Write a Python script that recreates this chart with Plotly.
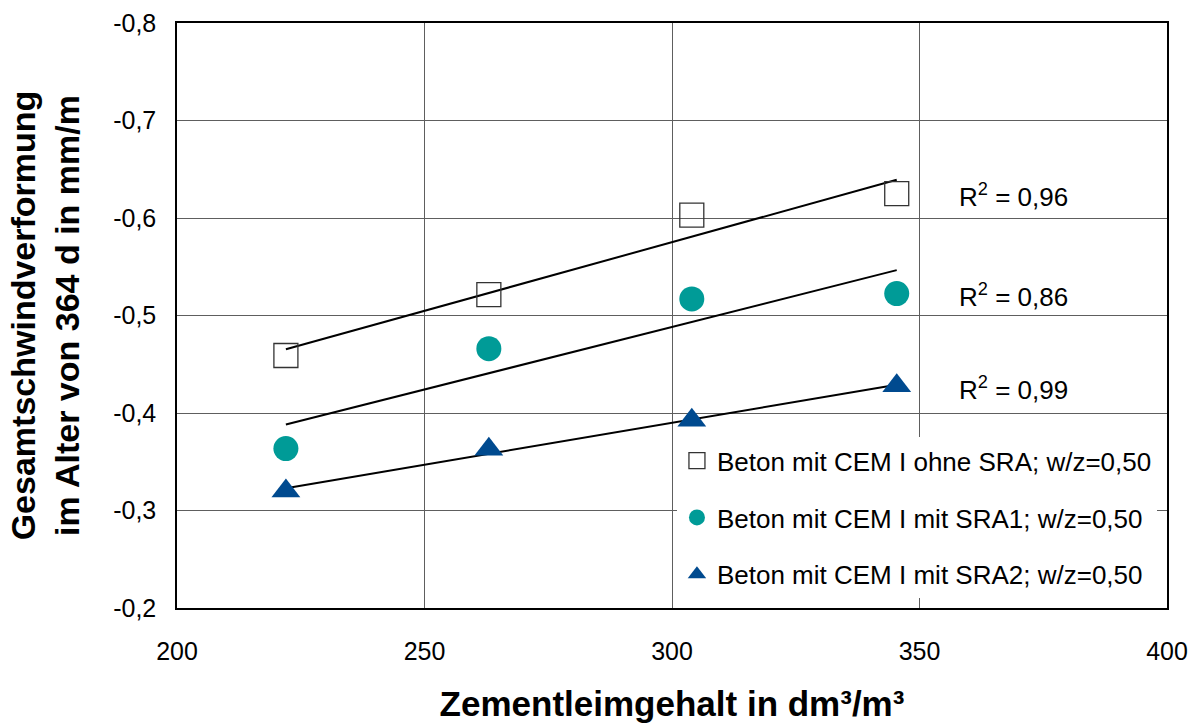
import numpy as np
import plotly.graph_objects as go

# ---- data ----
zementleim = [222, 263, 304, 345.4]
ohne_sra = [-0.459, -0.5215, -0.603, -0.625]
mit_sra1 = [-0.3635, -0.466, -0.517, -0.5225]
mit_sra2 = [-0.320, -0.3628, -0.3925, -0.428]

series_names = [
    "Beton mit CEM I ohne SRA; w/z=0,50",
    "Beton mit CEM I mit SRA1; w/z=0,50",
    "Beton mit CEM I mit SRA2; w/z=0,50",
]
r2_labels = ["0,96", "0,86", "0,99"]
r2_y = [-0.623, -0.521, -0.425]
r2_x = 357.6

y_tickvals = [-0.8, -0.7, -0.6, -0.5, -0.4, -0.3, -0.2]
y_ticktext = ["-0,8", "-0,7", "-0,6", "-0,5", "-0,4", "-0,3", "-0,2"]
x_tickvals = [200, 250, 300, 350, 400]

FONT = "Arial, Liberation Sans, sans-serif"
teal = "#009B97"
blue = "#004A8F"

markers = [
    dict(symbol="square-open", size=24, color="#333333", line=dict(width=1.3, color="#333333")),
    dict(symbol="circle", size=25, color=teal),
    dict(symbol="triangle-up", size=25, color=blue),
]
all_series = [ohne_sra, mit_sra1, mit_sra2]

fig = go.Figure()

# trend lines (linear regression of each series)
xs = np.array(zementleim, dtype=float)
for ys in all_series:
    k, d = np.polyfit(xs, np.array(ys), 1)
    xl = np.array([xs.min(), xs.max()])
    fig.add_trace(go.Scatter(
        x=xl, y=k * xl + d, mode="lines",
        line=dict(color="black", width=2),
        showlegend=False, hoverinfo="skip",
    ))

for i, (ys, name, mk) in enumerate(zip(all_series, series_names, markers)):
    fig.add_trace(go.Scatter(
        x=zementleim, y=ys, mode="markers", name=name,
        marker=mk, legendgroup=f"g{i}",
    ))

for lab, yy in zip(r2_labels, r2_y):
    fig.add_annotation(
        x=r2_x, y=yy, xref="x", yref="y",
        text=f"R<sup>2</sup> = {lab}", showarrow=False,
        xanchor="left", yanchor="middle",
        font=dict(family=FONT, size=26, color="black"),
    )

fig.update_layout(
    width=1194, height=723,
    margin=dict(l=177, r=27, t=23, b=115, autoexpand=False),
    paper_bgcolor="white", plot_bgcolor="white",
    font=dict(family=FONT, size=24, color="black"),
    legend=dict(
        x=0.505, y=0.292, xanchor="left", yanchor="top",
        bgcolor="white", borderwidth=0,
        font=dict(family=FONT, size=26, color="black"),
        tracegroupgap=20, itemsizing="trace",
    ),
    showlegend=True,
)

fig.update_xaxes(
    range=[200, 400], tickvals=x_tickvals, automargin=False,
    showgrid=True, gridcolor="#5e5e5e", gridwidth=1,
    showline=True, linecolor="black", linewidth=1.5, mirror=True,
    ticks="", ticklabelstandoff=20, zeroline=False,
    tickfont=dict(family=FONT, size=25, color="black"),
    title=dict(text="<b>Zementleimgehalt in dm³/m³</b>", standoff=34,
               font=dict(family=FONT, size=35, color="black")),
)
fig.update_yaxes(
    range=[-0.2, -0.8], tickvals=y_tickvals, ticktext=y_ticktext, automargin=False,
    showgrid=True, gridcolor="#5e5e5e", gridwidth=1,
    showline=True, linecolor="black", linewidth=1.5, mirror=True,
    ticks="", ticklabelstandoff=14, zeroline=False,
    tickfont=dict(family=FONT, size=25, color="black"),
    title=dict(text="<b>Gesamtschwindverformung<br>im Alter von 364 d in mm/m</b>",
               standoff=23, font=dict(family=FONT, size=34, color="black")),
)

fig.write_html(
    "out.html",
    config={"displayModeBar": False},
    post_script="document.body.style.margin='0';document.body.style.overflow='hidden';",
)
